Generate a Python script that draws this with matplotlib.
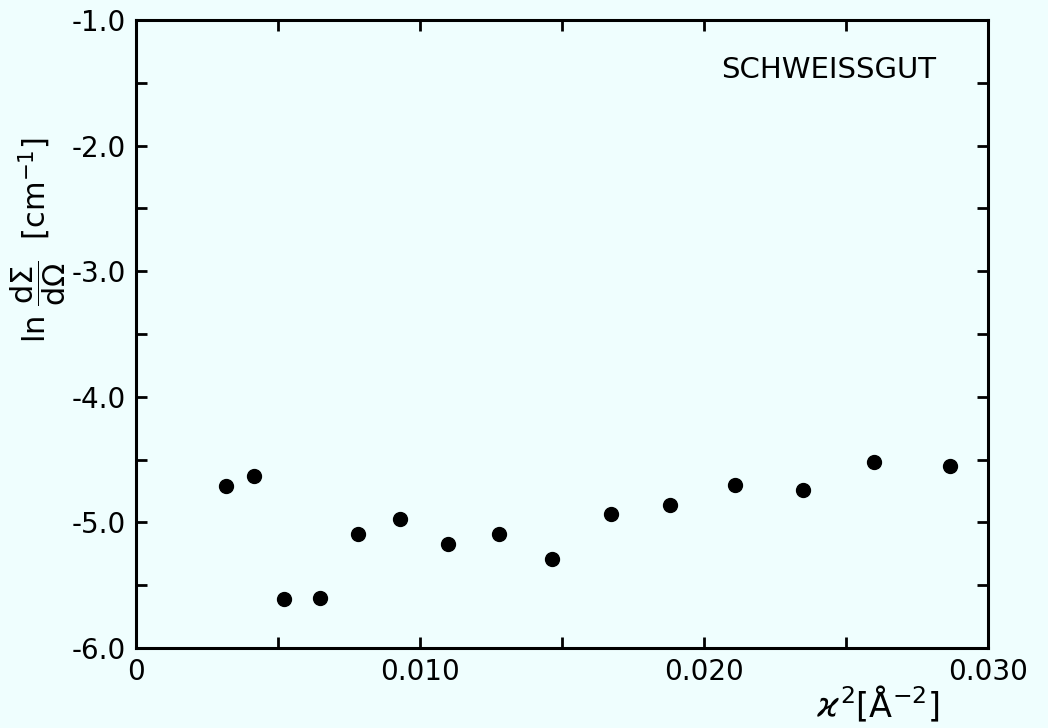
import matplotlib
matplotlib.use("Agg")
import matplotlib.pyplot as plt
from matplotlib.ticker import MultipleLocator, FixedLocator, FixedFormatter

x_vals = [0.00318, 0.00415, 0.00522, 0.00647, 0.00781, 0.00931, 0.01099, 0.01278,
          0.01466, 0.01671, 0.01882, 0.02109, 0.02347, 0.02599, 0.02867]
y_vals = [-4.71, -4.63, -5.61, -5.60, -5.09, -4.97, -5.17, -5.09,
          -5.29, -4.93, -4.86, -4.70, -4.74, -4.52, -4.55]

x_ticks = [0.0, 0.010, 0.020, 0.030]
x_tick_labels = ["0", "0.010", "0.020", "0.030"]
y_ticks = [-6.0, -5.0, -4.0, -3.0, -2.0, -1.0]
y_tick_labels = ["-6.0", "-5.0", "-4.0", "-3.0", "-2.0", "-1.0"]

bg = "#effefe"
plt.rcParams['font.family'] = ["DejaVu Sans"]
plt.rcParams['mathtext.fontset'] = 'dejavusans'

fig = plt.figure(figsize=(10.48, 7.28), dpi=100, facecolor=bg)
ax = fig.add_axes([0.1298, 0.1099, 0.8129, 0.8626], facecolor=bg)

ax.plot(x_vals, y_vals, 'o', color='black', markersize=10, linestyle='none')

ax.set_xlim(0, 0.030)
ax.set_ylim(-6.0, -1.0)
ax.xaxis.set_major_locator(FixedLocator(x_ticks))
ax.xaxis.set_major_formatter(FixedFormatter(x_tick_labels))
ax.yaxis.set_major_locator(FixedLocator(y_ticks))
ax.yaxis.set_major_formatter(FixedFormatter(y_tick_labels))
ax.xaxis.set_minor_locator(MultipleLocator(0.005))
ax.yaxis.set_minor_locator(MultipleLocator(0.5))

for s in ax.spines.values():
    s.set_linewidth(2.2)
ax.tick_params(which='both', direction='in', top=True, right=True,
               length=8, width=2.0, labelsize=20, pad=7)

ax.text(0.0244, -1.40, "SCHWEISSGUT", fontsize=21, ha='center', va='center')

fig.text(0.036, 0.67, r"ln $\dfrac{\mathrm{d}\Sigma}{\mathrm{d}\Omega}$  [cm$^{-1}$]", rotation=90,
         fontsize=22, ha='center', va='center')
fig.text(0.838, 0.032, r"$\varkappa^2$[Å$^{-2}$]", fontsize=24, ha='center', va='center')

fig.savefig("out.png", dpi=100, facecolor=bg)
